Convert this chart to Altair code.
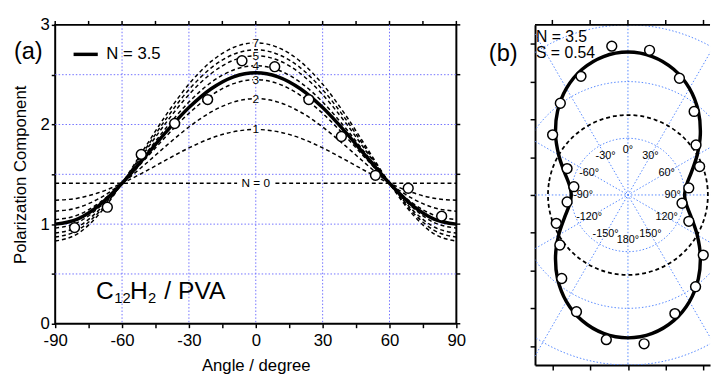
import altair as alt
import numpy as np
import pandas as pd

FONT = "Liberation Sans"
GRID_A = "#7070ff"
GRID_B = "#5588ff"

# ---------------- data ----------------
HALF_ANGLES = [0, 10, 20, 30, 40, 50, 60, 70, 80, 90]
N0 = [1.41, 1.41, 1.41, 1.41, 1.41, 1.41, 1.41, 1.41, 1.41, 1.41]
N1 = [1.95, 1.927, 1.863, 1.765, 1.647, 1.524, 1.41, 1.319, 1.26, 1.24]
N2 = [2.26, 2.225, 2.126, 1.975, 1.79, 1.594, 1.41, 1.261, 1.164, 1.13]
N3 = [2.45, 2.41, 2.293, 2.112, 1.887, 1.643, 1.41, 1.217, 1.09, 1.045]
N35 = [2.52, 2.479, 2.359, 2.17, 1.931, 1.667, 1.41, 1.194, 1.051, 1.0]
N4 = [2.59, 2.547, 2.423, 2.225, 1.972, 1.689, 1.41, 1.174, 1.016, 0.96]
N5 = [2.69, 2.645, 2.512, 2.3, 2.026, 1.717, 1.41, 1.149, 0.972, 0.91]
N6 = [2.75, 2.704, 2.569, 2.35, 2.064, 1.737, 1.41, 1.129, 0.938, 0.87]
N7 = [2.82, 2.773, 2.633, 2.405, 2.104, 1.759, 1.41, 1.108, 0.903, 0.83]
DASHED = {"0": N0, "1": N1, "2": N2, "3": N3, "4": N4, "5": N5, "6": N6, "7": N7}

PT_ANGLE = [-81.3, -66.6, -51.4, -36.4, -21.6, -6.2, 8.5, 23.8, 38.4, 53.7, 68.4, 83.4]
PT_VALUE = [0.965, 1.17, 1.70, 2.01, 2.25, 2.64, 2.58, 2.25, 1.88, 1.49, 1.36, 1.08]

X_TICKS = [-90, -75, -60, -45, -30, -15, 0, 15, 30, 45, 60, 75, 90]
Y_TICKS = [0, 0.5, 1, 1.5, 2, 2.5, 3]
X_GRID = [-60, -30, 0, 30, 60]
Y_GRID = [0.5, 1, 1.5, 2, 2.5]
CURVE_LABELS = ["7", "5", "4", "3", "2", "1"]
CURVE_LABEL_Y = [2.82, 2.69, 2.59, 2.45, 2.26, 1.95]
ZERO_LABEL = "N = 0"
ZERO_LABEL_Y = 1.41

POLAR_YTICKS = [-2.667, -2, -1.333, -0.667, 0, 0.667, 1.333, 2, 2.667]
POLAR_XTICKS = [-1.333, -0.667, 0, 0.667, 1.333]
POLAR_RINGS = [1, 2, 3]
POLAR_SPOKES = [0, 30, 60, 90, 120, 150]
ANGLE_LABELS = ["0°", "30°", "60°", "90°", "120°", "150°", "180°",
                "-150°", "-120°", "-90°", "-60°", "-30°"]
ANGLE_LABEL_DEG = [0, 30, 60, 90, 120, 150, 180, -150, -120, -90, -60, -30]
ANGLE_LABEL_R = 0.79


def mirror(half):
    ang = [-a for a in reversed(HALF_ANGLES[1:])] + HALF_ANGLES
    val = list(reversed(half[1:])) + list(half)
    return ang, val


# ---------------- left panel ----------------
W1, H1 = 408, 304
xs = alt.Scale(domain=[-90, 90], nice=False, zero=False)
ys = alt.Scale(domain=[0, 3], nice=False, zero=False)

rows = []
for n, half in DASHED.items():
    a, v = mirror(half)
    rows += [{"angle": ai, "value": vi, "N": n} for ai, vi in zip(a, v)]
df_dashed = pd.DataFrame(rows)
a35, v35 = mirror(N35)
df_solid = pd.DataFrame({"angle": a35, "value": v35})
df_pts = pd.DataFrame({"angle": PT_ANGLE, "value": PT_VALUE})
df_lab = pd.DataFrame({"lab": CURVE_LABELS, "y": CURVE_LABEL_Y, "x": [0] * len(CURVE_LABELS)})
df_zlab = pd.DataFrame({"lab": [ZERO_LABEL], "y": [ZERO_LABEL_Y], "x": [0]})

x_axis = alt.Axis(values=X_TICKS, labelExpr="datum.value % 30 == 0 ? '' + datum.value : ''",
                  title="Angle / degree", grid=False, domain=False, tickSize=4, tickWidth=1.5,
                  tickColor="black", labelPadding=5, labelFontSize=17, labelColor="black",
                  titleFontSize=17, titleFontWeight="normal", titleColor="black", titlePadding=10,
                  labelFlush=False, labelOverlap=False)
y_axis = alt.Axis(values=Y_TICKS, labelExpr="datum.value % 1 == 0 ? '' + datum.value : ''",
                  title="Polarization Component", grid=False, domain=False, tickSize=4, tickWidth=1.5,
                  tickColor="black", labelPadding=2, labelFontSize=17, labelColor="black",
                  titleFontSize=17, titleFontWeight="normal", titleColor="black", titlePadding=11,
                  labelFlush=False, labelOverlap=False)


def X1(f):
    return alt.X(f, scale=xs, axis=x_axis)


def Y1(f):
    return alt.Y(f, scale=ys, axis=y_axis)


gx = alt.Chart(pd.DataFrame({"g": X_GRID})).mark_rule(color=GRID_A, strokeDash=[1.5, 2], strokeWidth=1).encode(
    x=X1("g:Q"), y=alt.value(0), y2=alt.value(H1))
gy = alt.Chart(pd.DataFrame({"g": Y_GRID})).mark_rule(color=GRID_A, strokeDash=[1.5, 2], strokeWidth=1).encode(
    y=Y1("g:Q"), x=alt.value(0), x2=alt.value(W1))
top_ticks = alt.Chart(pd.DataFrame({"t": X_TICKS})).mark_rule(color="black", strokeWidth=1.5).encode(
    x=X1("t:Q"), y=alt.value(0), y2=alt.value(-4))
right_ticks = alt.Chart(pd.DataFrame({"t": Y_TICKS})).mark_rule(color="black", strokeWidth=1.5).encode(
    y=Y1("t:Q"), x=alt.value(W1), x2=alt.value(W1 + 4))

dashed = alt.Chart(df_dashed).mark_line(color="black", strokeWidth=1.5, strokeDash=[4, 3],
                                        interpolate="monotone").encode(
    x=X1("angle:Q"), y=Y1("value:Q"), detail="N:N")
solid = alt.Chart(df_solid).mark_line(color="black", strokeWidth=3.5, interpolate="monotone").encode(
    x=X1("angle:Q"), y=Y1("value:Q"))
pts = alt.Chart(df_pts).mark_point(shape="circle", filled=True, fill="white", stroke="black",
                                   strokeWidth=1.5, size=100, opacity=1).encode(
    x=X1("angle:Q"), y=Y1("value:Q"))

# white boxes behind the curve labels (custom symbol paths in the -1..1 box)
lab_box = alt.Chart(df_lab).mark_point(shape="M-0.45,-0.5L0.45,-0.5L0.45,0.5L-0.45,0.5Z", filled=True,
                                       fill="white", strokeWidth=0, size=144, opacity=1).encode(
    x=X1("x:Q"), y=Y1("y:Q"))
zlab_box = alt.Chart(df_zlab).mark_point(shape="M-1,-0.3L1,-0.3L1,0.3L-1,0.3Z", filled=True,
                                         fill="white", strokeWidth=0, size=1444, opacity=1).encode(
    x=X1("x:Q"), y=Y1("y:Q"))
lab = alt.Chart(df_lab).mark_text(fontSize=12, color="black", baseline="middle").encode(
    x=X1("x:Q"), y=Y1("y:Q"), text="lab:N")
zlab = alt.Chart(df_zlab).mark_text(fontSize=12, color="black", baseline="middle").encode(
    x=X1("x:Q"), y=Y1("y:Q"), text="lab:N")

one = pd.DataFrame({"a": [0]})
leg_line = alt.Chart(one).mark_rule(color="black", strokeWidth=3.5).encode(
    x=alt.value(18.7), x2=alt.value(43.3), y=alt.value(30))
leg_text = alt.Chart(one).mark_text(text="N = 3.5", fontSize=17, align="left", baseline="middle").encode(
    x=alt.value(52), y=alt.value(30))
panel_a = alt.Chart(one).mark_text(text="(a)", fontSize=24, align="left", baseline="middle").encode(
    x=alt.value(-42), y=alt.value(28))
f_c = alt.Chart(one).mark_text(text="C", fontSize=25, align="left", baseline="alphabetic").encode(
    x=alt.value(41.5), y=alt.value(279))
f_12 = alt.Chart(one).mark_text(text="12", fontSize=15, align="left", baseline="alphabetic").encode(
    x=alt.value(60), y=alt.value(283))
f_h = alt.Chart(one).mark_text(text="H", fontSize=25, align="left", baseline="alphabetic").encode(
    x=alt.value(76), y=alt.value(279))
f_2 = alt.Chart(one).mark_text(text="2", fontSize=15, align="left", baseline="alphabetic").encode(
    x=alt.value(94.5), y=alt.value(283))
f_pva = alt.Chart(one).mark_text(text="/ PVA", fontSize=25, align="left", baseline="alphabetic").encode(
    x=alt.value(111), y=alt.value(279))

left = alt.layer(gx, gy, top_ticks, right_ticks, dashed, solid, pts, lab_box, zlab_box, lab, zlab,
                 leg_line, leg_text, panel_a, f_c, f_12, f_h, f_2, f_pva).properties(
    width=W1, height=H1, view=alt.ViewBackground(stroke="black", strokeWidth=2))

# ---------------- right (polar) panel ----------------
W2, H2 = 178, 346
xs2 = alt.Scale(domain=[-1.639, 1.448], nice=False, zero=False)
ys2 = alt.Scale(domain=[-3, 3], nice=False, zero=False)

px_axis = alt.Axis(values=POLAR_XTICKS, labels=False, title=None, grid=False, domain=True,
                   domainColor="black", domainWidth=2, tickSize=5, tickColor="black", tickWidth=1.5)
py_axis = alt.Axis(values=POLAR_YTICKS, labels=False, title=None, grid=False, domain=True,
                   domainColor="black", domainWidth=2, tickSize=5, tickColor="black", tickWidth=1.5)


def X2(f):
    return alt.X(f, scale=xs2, axis=px_axis)


def Y2(f):
    return alt.Y(f, scale=ys2, axis=py_axis)


phi = np.arange(0, 361, 3)
ring_rows = []
for r in POLAR_RINGS:
    for i, p in enumerate(phi):
        ring_rows.append({"x": r * np.sin(np.radians(p)), "y": r * np.cos(np.radians(p)), "r": r, "i": i})
df_rings = pd.DataFrame(ring_rows)

R_SP = 3.6
df_spokes = pd.DataFrame({
    "x1": [R_SP * np.sin(np.radians(a)) for a in POLAR_SPOKES],
    "y1": [R_SP * np.cos(np.radians(a)) for a in POLAR_SPOKES],
    "x2": [-R_SP * np.sin(np.radians(a)) for a in POLAR_SPOKES],
    "y2": [-R_SP * np.cos(np.radians(a)) for a in POLAR_SPOKES],
})


def polar_curve(half):
    a, v = mirror(half)
    th = list(a) + [ai + 180 for ai in a[1:-1]]
    rr = list(v) + list(v[1:-1])
    return pd.DataFrame({
        "x": [r * np.sin(np.radians(t)) for t, r in zip(th, rr)],
        "y": [r * np.cos(np.radians(t)) for t, r in zip(th, rr)],
        "i": list(range(len(th))),
    })


df_p0 = polar_curve(N0)
df_p35 = polar_curve(N35)
th_pts = PT_ANGLE + [a + 180 for a in PT_ANGLE]
r_pts = PT_VALUE + PT_VALUE
df_ppts = pd.DataFrame({
    "x": [r * np.sin(np.radians(t)) for t, r in zip(th_pts, r_pts)],
    "y": [r * np.cos(np.radians(t)) for t, r in zip(th_pts, r_pts)],
})
df_alab = pd.DataFrame({
    "lab": ANGLE_LABELS,
    "x": [ANGLE_LABEL_R * np.sin(np.radians(a)) for a in ANGLE_LABEL_DEG],
    "y": [ANGLE_LABEL_R * np.cos(np.radians(a)) for a in ANGLE_LABEL_DEG],
})

rings = alt.Chart(df_rings).mark_line(color=GRID_B, strokeDash=[1.5, 2], strokeWidth=1, clip=True).encode(
    x=X2("x:Q"), y=Y2("y:Q"), detail="r:N", order="i:Q")
spokes = alt.Chart(df_spokes).mark_rule(color=GRID_B, strokeDash=[1.5, 2], strokeWidth=1, clip=True).encode(
    x=X2("x1:Q"), y=Y2("y1:Q"), x2="x2:Q", y2="y2:Q")
p0 = alt.Chart(df_p0).mark_line(color="black", strokeWidth=1.8, strokeDash=[4, 3],
                                interpolate="cardinal-closed").encode(
    x=X2("x:Q"), y=Y2("y:Q"), order="i:Q")
p35 = alt.Chart(df_p35).mark_line(color="black", strokeWidth=3.5, interpolate="cardinal-closed").encode(
    x=X2("x:Q"), y=Y2("y:Q"), order="i:Q")
ppts = alt.Chart(df_ppts).mark_point(shape="circle", filled=True, fill="white", stroke="black",
                                     strokeWidth=1.5, size=100, opacity=1).encode(
    x=X2("x:Q"), y=Y2("y:Q"))
alab = alt.Chart(df_alab).mark_text(fontSize=11, color="black", baseline="middle").encode(
    x=X2("x:Q"), y=Y2("y:Q"), text="lab:N")
top_frame = alt.Chart(one).mark_rule(color="black", strokeWidth=2).encode(
    x=alt.value(0), x2=alt.value(W2), y=alt.value(0))
ptop_ticks = alt.Chart(pd.DataFrame({"t": POLAR_XTICKS})).mark_rule(color="black", strokeWidth=1.5).encode(
    x=X2("t:Q"), y=alt.value(0), y2=alt.value(-5))
t_n = alt.Chart(one).mark_text(text="N = 3.5", fontSize=16, align="left", baseline="middle").encode(
    x=alt.value(1), y=alt.value(12.7))
t_s = alt.Chart(one).mark_text(text="S = 0.54", fontSize=16, align="left", baseline="middle").encode(
    x=alt.value(1), y=alt.value(28.3))
panel_b = alt.Chart(one).mark_text(text="(b)", fontSize=24, align="left", baseline="middle").encode(
    x=alt.value(-47), y=alt.value(30))

right = alt.layer(rings, spokes, p0, p35, ppts, alab, top_frame, ptop_ticks,
                  t_n, t_s, panel_b).properties(width=W2, height=H2)

chart = alt.hconcat(left, right, spacing=80, bounds="flush").properties(
    padding={"left": 2, "top": 4, "right": 0, "bottom": 0}
).configure(font=FONT).configure_view(strokeWidth=0)

chart.save("out.html", embed_options={"renderer": "svg", "actions": False})
